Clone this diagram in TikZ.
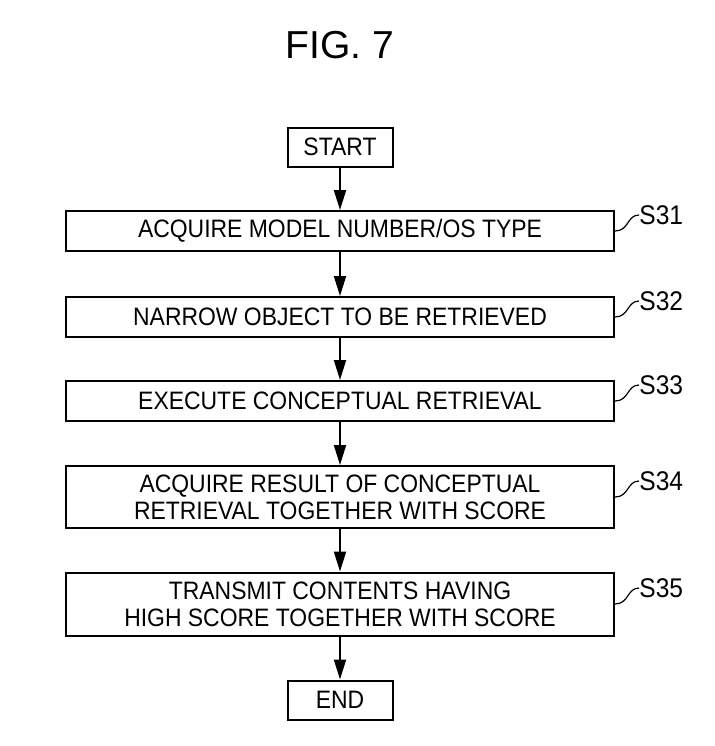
\documentclass[tikz,border=0pt]{standalone}
\usepackage{fontspec}
\setmainfont[FakeStretch=0.91]{Liberation Sans}
\newfontfamily\figfont{Liberation Sans}
\usetikzlibrary{shapes,arrows.meta}

\begin{document}
\begin{tikzpicture}[node distance=42pt, auto]
    \tikzstyle{stepbox} = [rectangle, draw, line width=1pt, minimum width=274pt, minimum height=20pt, inner sep=0pt, align=center, font=\fontsize{12.6}{13.5}\selectfont]
    \tikzstyle{termbox} = [rectangle, draw, line width=1pt, minimum width=52.5pt, minimum height=19.5pt, inner sep=0pt, font=\fontsize{12.6}{13.5}\selectfont]
    \tikzstyle{line} = [draw, -{Triangle[length=10pt, width=6pt]}, line width=1pt]
    \tikzstyle{tag} = [anchor=west, inner sep=0pt, font=\fontsize{13.5}{14}\selectfont]
    \tikzstyle{squig} = [draw, line width=0.6pt]

    \useasboundingbox (0,0) rectangle (357.5pt,-373pt);
    \node (title) at (170pt,-22.5pt) {\figfont\fontsize{19.5}{22}\selectfont FIG. 7};

    \node [termbox] (start) at (170pt,-73.5pt) {START};
    \node [stepbox, below of=start] (acquire) {ACQUIRE MODEL NUMBER/OS TYPE};
    \node [stepbox, below of=acquire, node distance=43pt] (narrow) {NARROW OBJECT TO BE RETRIEVED};
    \node [stepbox, below of=narrow] (execute) {EXECUTE CONCEPTUAL RETRIEVAL};
    \node [stepbox, below of=execute, node distance=48pt, minimum height=31pt] (result) {ACQUIRE RESULT OF CONCEPTUAL\\RETRIEVAL TOGETHER WITH SCORE};
    \node [stepbox, below of=result, node distance=53.5pt, minimum height=31.5pt] (transmit) {TRANSMIT CONTENTS HAVING\\HIGH SCORE TOGETHER WITH SCORE};
    \node [termbox, below of=transmit, node distance=48pt] (end) {END};

    \node [tag] (s31) at ([shift={(12pt,8pt)}]acquire.east) {S31};
    \node [tag] (s32) at ([shift={(12pt,8pt)}]narrow.east) {S32};
    \node [tag] (s33) at ([shift={(12pt,8pt)}]execute.east) {S33};
    \node [tag] (s34) at ([shift={(12pt,8pt)}]result.east) {S34};
    \node [tag] (s35) at ([shift={(12pt,8pt)}]transmit.east) {S35};

    \path [line] (start) -- (acquire);
    \path [line] (acquire) -- (narrow);
    \path [line] (narrow) -- (execute);
    \path [line] (execute) -- (result);
    \path [line] (result) -- (transmit);
    \path [line] (transmit) -- (end);

    \path [squig] (acquire.east) .. controls +(7pt,0) and +(-6pt,0) .. (s31.west);
    \path [squig] (narrow.east) .. controls +(7pt,0) and +(-6pt,0) .. (s32.west);
    \path [squig] (execute.east) .. controls +(7pt,0) and +(-6pt,0) .. (s33.west);
    \path [squig] (result.east) .. controls +(7pt,0) and +(-6pt,0) .. (s34.west);
    \path [squig] (transmit.east) .. controls +(7pt,0) and +(-6pt,0) .. (s35.west);
\end{tikzpicture}
\end{document}
